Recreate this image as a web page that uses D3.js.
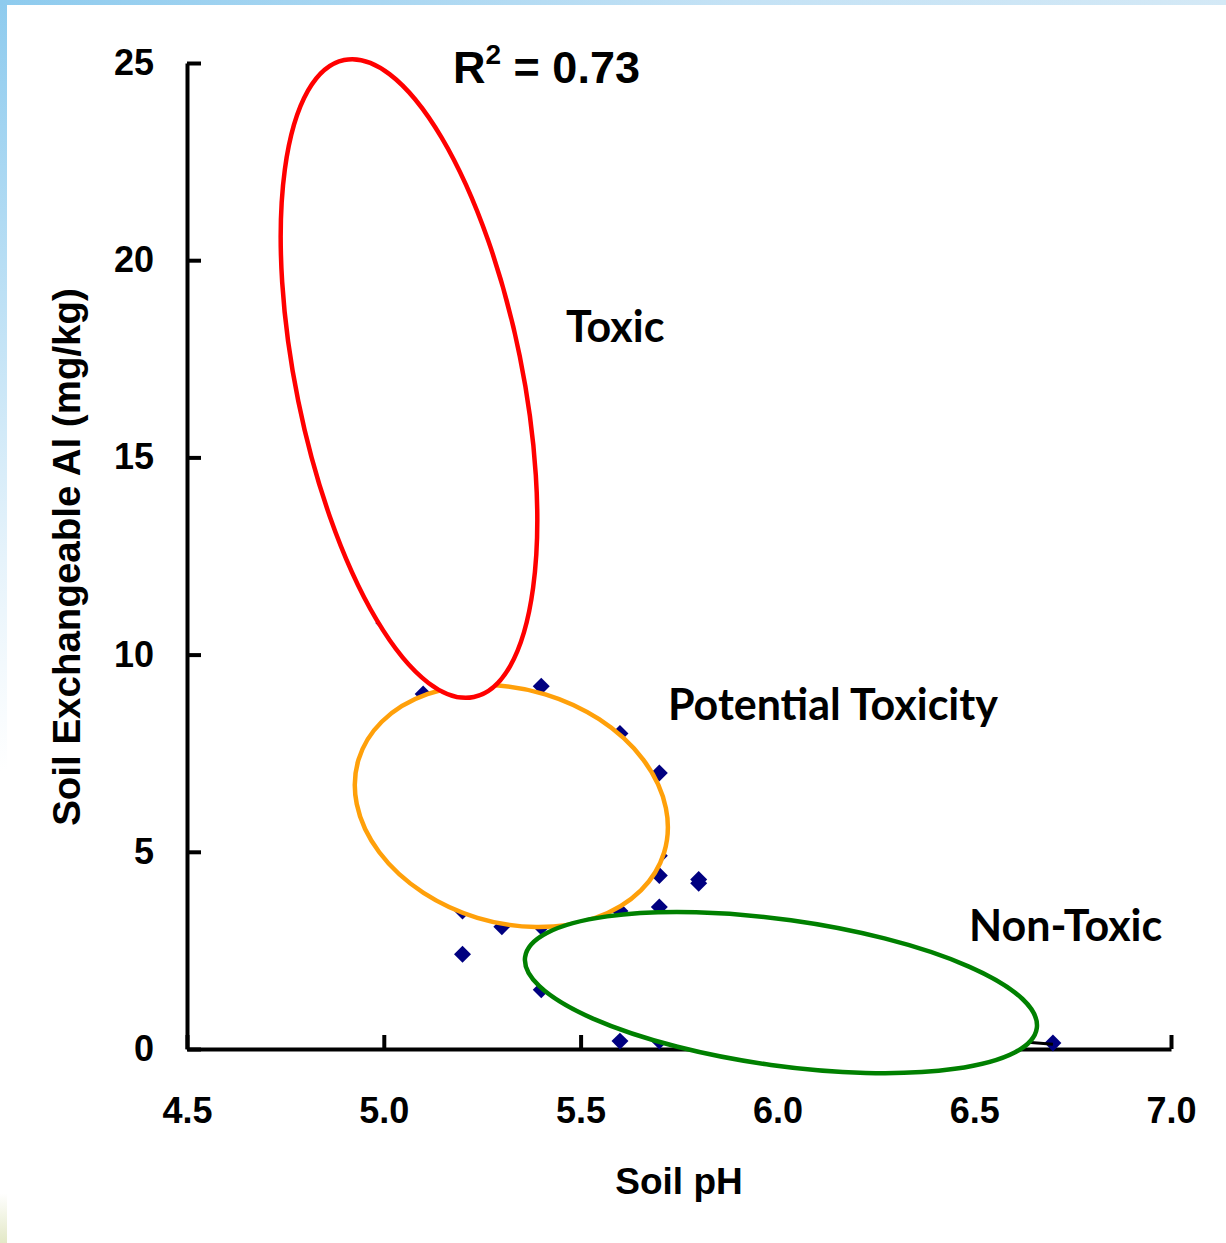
<!DOCTYPE html>
<html lang="en">
<head>
    <meta charset="UTF-8">
    <title>Soil pH vs Exchangeable Al</title>
    <script src="https://d3js.org/d3.v7.min.js"></script>
    <style>
        body { margin: 0; background: #fff; }
        text { font-family: "Liberation Sans", Arial, sans-serif; font-weight: bold; fill: #000; }
        .zone { font-family: Lato, "Open Sans", sans-serif; }
    </style>
</head>
<body>
<script>
    // data
    var phValues = [5.0, 5.1, 5.4, 5.6, 5.7, 5.7, 5.7, 5.8, 5.8, 5.7, 5.6, 5.2, 5.3, 5.4, 5.2, 5.4, 5.6, 5.7, 6.7];
    var alValues = [10.8, 9.0, 9.2, 8.0, 7.0, 4.9, 4.4, 4.3, 4.2, 3.6, 3.5, 3.5, 3.1, 3.1, 2.4, 1.5, 0.2, 0.2, 0.15];

    // fitted trend (mostly hidden under the zones), estimated
    var trendPh = [4.9, 5.1, 5.25, 5.5, 5.7, 6.0, 6.3, 6.6, 6.7];
    var trendAl = [20, 12, 7.5, 4.0, 2.0, 1.0, 0.45, 0.2, 0.12];

    var xTicks = [4.5, 5.0, 5.5, 6.0, 6.5, 7.0];
    var yTicks = [0, 5, 10, 15, 20, 25];

    // zones: centre in data units, semi-axes in px, tilt in degrees
    var zoneNames = ["Potential Toxicity", "Non-Toxic", "Toxic"];
    var zoneColours = ["#ffa00a", "#008000", "#ff0000"];
    var zonePh = [5.324, 6.009, 5.064];
    var zoneAl = [6.16, 1.43, 17.0];
    var zoneRx = [159.7, 258.3, 113];
    var zoneRy = [116.8, 73, 325];
    var zoneTilt = [16.9, 7.9, -11.5];

    var width = 1226, height = 1243;

    var svg = d3.select("body").append("svg")
        .attr("width", width)
        .attr("height", height);

    // slide decoration: thin blue strips on top and left
    var defs = svg.append("defs");
    var gTop = defs.append("linearGradient").attr("id", "topStrip");
    gTop.append("stop").attr("offset", "0%").attr("stop-color", "#8ecbee");
    gTop.append("stop").attr("offset", "60%").attr("stop-color", "#c4e2f5");
    gTop.append("stop").attr("offset", "100%").attr("stop-color", "#d4e9f6");
    var gLeft = defs.append("linearGradient").attr("id", "leftStrip")
        .attr("x1", 0).attr("y1", 0).attr("x2", 0).attr("y2", 1);
    gLeft.append("stop").attr("offset", "0%").attr("stop-color", "#8ecbee");
    gLeft.append("stop").attr("offset", "45%").attr("stop-color", "#e6f3fb");
    gLeft.append("stop").attr("offset", "62%").attr("stop-color", "#ffffff");
    gLeft.append("stop").attr("offset", "96%").attr("stop-color", "#ffffff");
    gLeft.append("stop").attr("offset", "100%").attr("stop-color", "#e3e8c6");

    svg.append("rect").attr("x", 0).attr("y", 0).attr("width", 7).attr("height", height)
        .attr("fill", "url(#leftStrip)");
    svg.append("rect").attr("x", 0).attr("y", 0).attr("width", width).attr("height", 5)
        .attr("fill", "url(#topStrip)");

    var x = d3.scaleLinear().domain([4.5, 7.0]).range([187, 1171]);
    var y = d3.scaleLinear().domain([0, 25]).range([1049, 63]);

    // axes first: the zones are painted over them
    var xAxis = svg.append("g")
        .attr("transform", "translate(0,1049)")
        .call(d3.axisBottom(x).tickValues(xTicks).tickFormat(d3.format(".1f"))
            .tickSizeInner(-14).tickSizeOuter(0).tickPadding(48));
    var yAxis = svg.append("g")
        .attr("transform", "translate(187,0)")
        .call(d3.axisLeft(y).tickValues(yTicks).tickFormat(d3.format("d"))
            .tickSizeInner(-14).tickSizeOuter(0).tickPadding(33));

    [xAxis, yAxis].forEach(function(a) {
        a.select(".domain").attr("stroke", "#000").attr("stroke-width", 4);
        a.selectAll(".tick line").attr("stroke", "#000").attr("stroke-width", 4);
        a.selectAll(".tick text")
            .attr("font-family", "'Liberation Sans', Arial, sans-serif")
            .attr("font-weight", "bold")
            .attr("font-size", 36)
            .attr("fill", "#000");
    });
    xAxis.selectAll(".tick text").attr("dy", "0.71em");

    // points
    var points = phValues.map(function(d, i) { return { ph: d, al: alValues[i] }; });
    svg.append("g")
        .selectAll("path")
        .data(points)
        .enter()
        .append("path")
        .attr("d", d3.symbol().type(d3.symbolSquare).size(144))
        .attr("transform", function(d) {
            return "translate(" + x(d.ph) + "," + y(d.al) + ") rotate(45)";
        })
        .attr("fill", "#000080");

    // trend line
    var trend = trendPh.map(function(d, i) { return [d, trendAl[i]]; });
    svg.append("path")
        .datum(trend)
        .attr("fill", "none")
        .attr("stroke", "#000")
        .attr("stroke-width", 3)
        .attr("d", d3.line()
            .x(function(d) { return x(d[0]); })
            .y(function(d) { return y(d[1]); })
            .curve(d3.curveMonotoneX));

    // zone ellipses, white filled so they cover what is under them
    svg.append("g")
        .selectAll("ellipse")
        .data(zoneNames)
        .enter()
        .append("ellipse")
        .attr("rx", function(d, i) { return zoneRx[i]; })
        .attr("ry", function(d, i) { return zoneRy[i]; })
        .attr("transform", function(d, i) {
            return "translate(" + x(zonePh[i]) + "," + y(zoneAl[i]) + ") rotate(" + zoneTilt[i] + ")";
        })
        .attr("fill", "#fff")
        .attr("stroke", function(d, i) { return zoneColours[i]; })
        .attr("stroke-width", 4.5);

    // axis titles
    svg.append("text")
        .attr("x", 679)
        .attr("y", 1194)
        .attr("text-anchor", "middle")
        .attr("font-size", 37)
        .text("Soil pH");
    svg.append("text")
        .attr("transform", "translate(80,557) rotate(-90)")
        .attr("text-anchor", "middle")
        .attr("font-size", 38.5)
        .text("Soil Exchangeable Al (mg/kg)");

    // R squared
    var r2 = svg.append("text")
        .attr("x", 453)
        .attr("y", 83)
        .attr("font-size", 45);
    r2.append("tspan").text("R");
    r2.append("tspan").attr("font-size", 28).attr("dy", -19).text("2");
    r2.append("tspan").attr("dy", 19).text(" = 0.73");

    // zone labels
    var labelX = [668, 969, 566];
    var labelY = [720, 941, 342];
    svg.append("g")
        .selectAll("text")
        .data(zoneNames)
        .enter()
        .append("text")
        .attr("class", "zone")
        .attr("x", function(d, i) { return labelX[i]; })
        .attr("y", function(d, i) { return labelY[i]; })
        .attr("font-size", 43)
        .text(function(d) { return d; });
</script>
</body>
</html>
